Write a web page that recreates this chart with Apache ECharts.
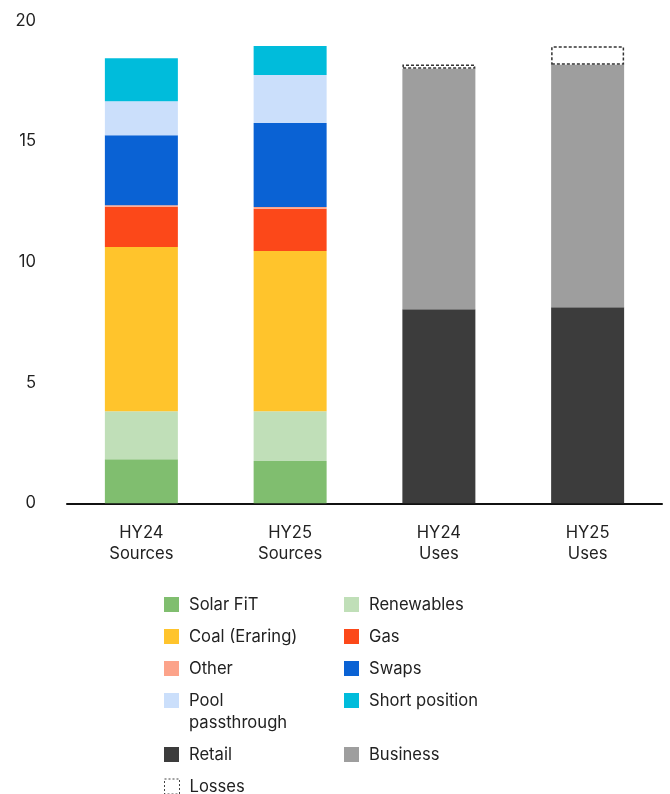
<!DOCTYPE html>
<html>
<head>
<meta charset="utf-8">
<script src="https://cdn.jsdelivr.net/npm/echarts@6/dist/echarts.min.js"></script>
<style>html,body{margin:0;padding:0;background:#fff}#c{width:670px;height:794px}</style>
</head>
<body>
<div id="c"></div>
<script>
const categories = ['HY24\nSources', 'HY25\nSources', 'HY24\nUses', 'HY25\nUses'];
const solarFit   = [1.82, 1.75, null, null];
const renewables = [1.99, 2.06, null, null];
const coal       = [6.81, 6.64, null, null];
const gas        = [1.66, 1.75, null, null];
const other      = [0.07, 0.07, null, null];
const swaps      = [2.90, 3.48, null, null];
const pool       = [1.41, 1.99, null, null];
const shortPos   = [1.78, 1.20, null, null];
const retail     = [null, null, 8.04, 8.12];
const business   = [null, null, 9.96, 10.05];
const losses     = [null, null, 0.18, 0.76];
const yTicks     = [0, 5, 10, 15, 20];

const FONT = 'Inter';
const FS = 16.6;
const TXT = '#222';

const seriesDefs = [
  ['Solar FiT', solarFit, '#80be6f'],
  ['Renewables', renewables, '#c0dfb8'],
  ['Coal (Eraring)', coal, '#ffc42c'],
  ['Gas', gas, '#fc4819'],
  ['Other', other, '#fca38a'],
  ['Swaps', swaps, '#0a62d4'],
  ['Pool passthrough', pool, '#cbdffb'],
  ['Short position', shortPos, '#00bcdb'],
  ['Retail', retail, '#3c3c3c'],
  ['Business', business, '#9e9e9e'],
  ['Losses', losses, null]
];

const series = seriesDefs.map(([name, data, color]) => ({
  name, type: 'bar', stack: 'total', data, barWidth: 73,
  itemStyle: color ? { color } : { color: '#fff', borderColor: '#333', borderWidth: 1.5, borderType: [3, 2] },
  emphasis: { disabled: true }
}));

// legend layout: [name, left(icon), top(icon), label]
const legendLayout = [
  ['Solar FiT', 164, 596, 'Solar FiT'],
  ['Renewables', 344, 596, 'Renewables'],
  ['Coal (Eraring)', 164, 628, 'Coal (Eraring)'],
  ['Gas', 344, 628, 'Gas'],
  ['Other', 164, 660, 'Other'],
  ['Swaps', 344, 660, 'Swaps'],
  ['Pool passthrough', 164, 692, 'Pool'],
  ['Short position', 344, 692, 'Short position'],
  ['Retail', 164, 746, 'Retail'],
  ['Business', 344, 746, 'Business'],
  ['Losses', 164, 778, 'Losses']
];

const legends = legendLayout.map(([name, left, top, label]) => {
  const item = { name, icon: 'rect' };
  if (name === 'Losses') {
    item.itemStyle = { color: '#fff', borderColor: '#444', borderWidth: 1, borderType: [2, 2] };
  }
  return {
    data: [item], left, top, padding: 0, itemWidth: 15, itemHeight: 15,
    selectedMode: false,
    formatter: () => label,
    textStyle: { fontFamily: FONT, fontSize: FS, color: TXT, padding: [0, 0, 0, 5] }
  };
});

const chart = echarts.init(document.getElementById('c'), null, { renderer: 'canvas' });
chart.setOption({
  animation: false,
  backgroundColor: '#fff',
  grid: { left: 67, right: 8, top: 20.5, bottom: 290.7, containLabel: false },
  xAxis: {
    type: 'category', data: categories,
    axisLine: { lineStyle: { color: '#111', width: 2 } },
    axisTick: { show: false },
    axisLabel: { fontFamily: FONT, fontSize: FS, color: TXT, lineHeight: 21, margin: 19 }
  },
  yAxis: {
    type: 'value', min: yTicks[0], max: yTicks[yTicks.length - 1], interval: 5,
    axisLine: { show: false }, axisTick: { show: false }, splitLine: { show: false },
    axisLabel: { fontFamily: FONT, fontSize: FS, color: TXT, margin: 31 }
  },
  legend: legends,
  graphic: [{
    type: 'text', left: 189, top: 714,
    style: { text: 'passthrough', fontFamily: FONT, fontSize: FS, fill: TXT }
  }],
  series
});
</script>
</body>
</html>
